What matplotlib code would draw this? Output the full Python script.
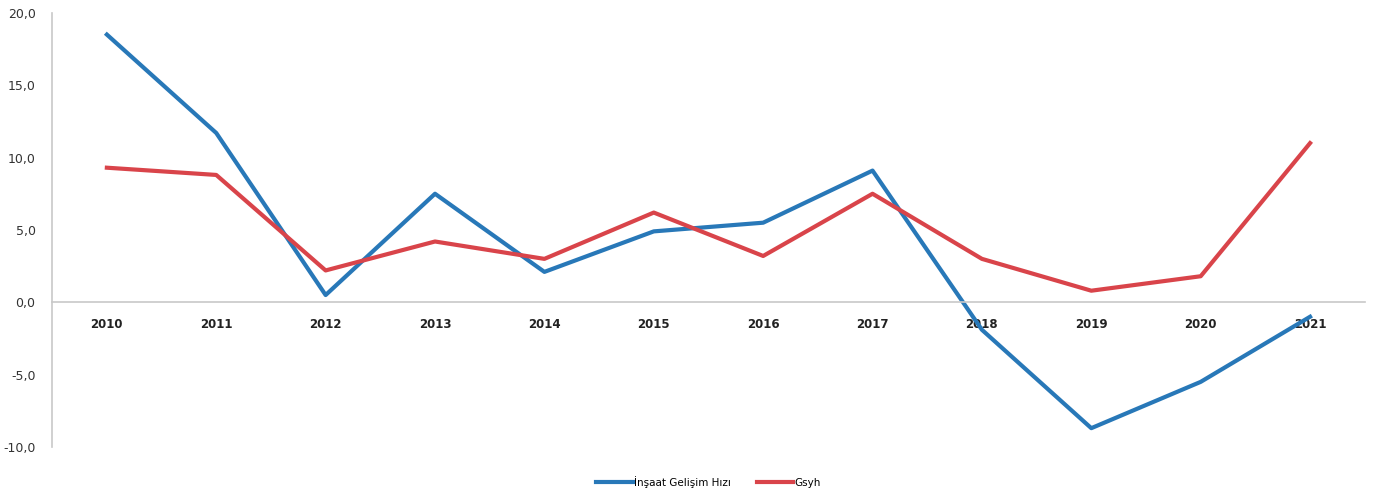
import matplotlib.pyplot as plt
import numpy as np

# data
years = ['2010', '2011', '2012', '2013', '2014', '2015', '2016', '2017', '2018', '2019', '2020', '2021']
insaat = [18.5, 11.7, 0.5, 7.5, 2.1, 4.9, 5.5, 9.1, -1.9, -8.7, -5.5, -1.0]
gsyh = [9.3, 8.8, 2.2, 4.2, 3.0, 6.2, 3.2, 7.5, 3.0, 0.8, 1.8, 11.0]
yticks = [-10, -5, 0, 5, 10, 15, 20]

fig = plt.figure(figsize=(13.73, 4.95), dpi=100)
ax = fig.add_axes([0.038, 0.097, 0.956, 0.877])

# spines first: moving the bottom spine resets the tick objects
for s in ['top', 'right']:
    ax.spines[s].set_visible(False)
ax.spines['bottom'].set_position(('data', 0))
ax.spines['bottom'].set_color('#c8c8c8')
ax.spines['left'].set_color('#c8c8c8')
ax.spines['bottom'].set_linewidth(1.2)
ax.spines['left'].set_linewidth(1.2)

x = np.arange(len(years))
ax.plot(x, insaat, color='#2878b8', lw=3.0, label='İnşaat Gelişim Hızı')
ax.plot(x, gsyh, color='#d9444a', lw=3.0, label='Gsyh')

ax.set_xlim(-0.5, len(years) - 0.5)
ax.set_ylim(-10, 20)
ax.set_yticks(yticks)
ax.set_yticklabels([('%.1f' % v).replace('.', ',') for v in yticks], fontsize=9, color='#333333')
ax.set_xticks(x)
ax.set_xticklabels(years, fontsize=8.5, fontweight='bold', color='#222222')

ax.tick_params(axis='both', length=0)
ax.tick_params(axis='x', pad=11)
ax.tick_params(axis='y', pad=12)

ax.legend(loc='upper center', bbox_to_anchor=(0.5, -0.045), ncol=2, frameon=False,
          fontsize=7.5, handlelength=3.5, columnspacing=2.5, handletextpad=0.1)

fig.savefig('out.png', dpi=100)
